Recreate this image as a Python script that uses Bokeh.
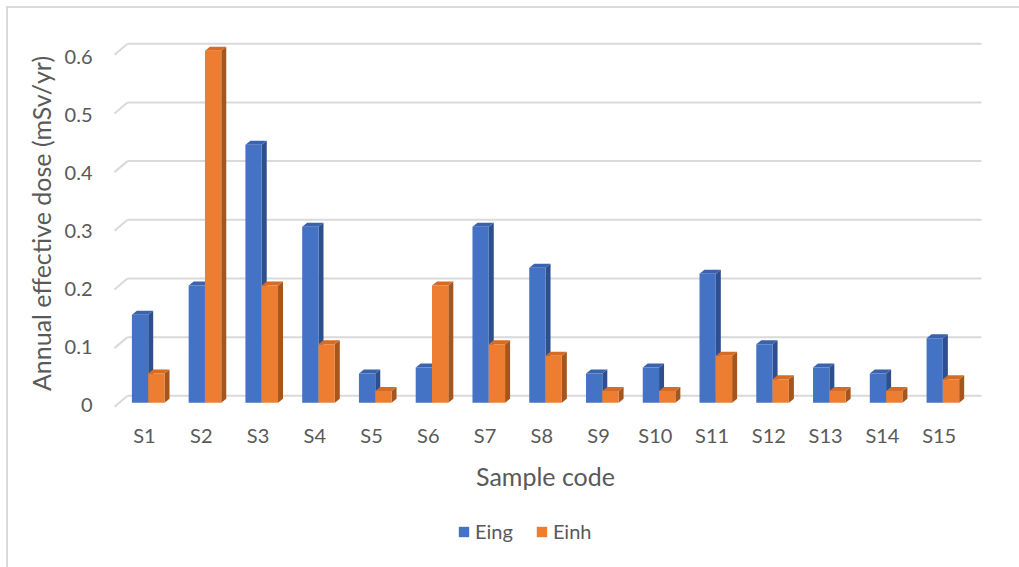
from bokeh.plotting import figure
from bokeh.layouts import column
from bokeh.models import Range1d, LinearAxis, FixedTicker, Legend, LegendItem
from bokeh.embed import file_html
from bokeh.resources import INLINE

# ---- data ----
categories = ["S1", "S2", "S3", "S4", "S5", "S6", "S7", "S8", "S9", "S10",
              "S11", "S12", "S13", "S14", "S15"]
eing = [0.15, 0.20, 0.44, 0.30, 0.05, 0.06, 0.30, 0.23, 0.05, 0.06,
        0.22, 0.10, 0.06, 0.05, 0.11]
einh = [0.05, 0.60, 0.20, 0.10, 0.02, 0.20, 0.10, 0.08, 0.02, 0.02,
        0.08, 0.04, 0.02, 0.02, 0.04]
y_ticks = [0, 0.1, 0.2, 0.3, 0.4, 0.5, 0.6]
series_names = ["Eing", "Einh"]

# ---- geometry (pixel scales of the pseudo-3D chart) ----
PX_X = 56.76          # px per category
PX_Y = 586.7          # px per unit of dose
SHIFT = 3.7 / PX_X    # bars' pair boundary relative to label
BW = 16.3 / PX_X      # front face width
DX = 5.0 / PX_X       # depth in x
DY = 4.0 / PX_Y       # depth in y
BACK_DY = 7.0 / PX_Y  # back wall above the front plane
FRONT_DY = -4.0 / PX_Y

TXT = "#595959"
FONT = "Lato"
BLUE = ("#4472C4", "#2D4F8E", "#3A63AE")
ORANGE = ("#ED7D31", "#A5561E", "#D46C25")

p = figure(frame_width=892, frame_height=390,
           x_range=Range1d(-0.7928, 14.922),
           y_range=Range1d(-0.02676, 0.63798),
           min_border_left=99, min_border_right=28,
           min_border_top=28, min_border_bottom=87,
           y_axis_location=None,
           output_backend="svg", toolbar_location=None,
           background_fill_color="white", border_fill_alpha=0,
           outline_line_color=None)
p.styles = {
    "background-color": "white",
    "background-image": "linear-gradient(#d9d9d9, #d9d9d9), linear-gradient(#d9d9d9, #d9d9d9)",
    "background-size": "2px 100%, 100% 2px",
    "background-position": "6px 6px, 6px 6px",
    "background-repeat": "no-repeat",
}
p.xgrid.visible = False
p.ygrid.visible = False

# y axis on its own range (labels follow the front wall's projection)
p.extra_y_ranges = {"lab": Range1d(-0.022414, 0.65)}
yax = LinearAxis(y_range_name="lab", ticker=FixedTicker(ticks=y_ticks),
                 axis_label="Annual effective dose (mSv/yr)")
yax.axis_line_color = None
yax.major_tick_line_color = None
yax.minor_tick_line_color = None
yax.major_tick_out = 0
yax.major_tick_in = 0
yax.major_label_standoff = 7
yax.axis_label_standoff = 6
yax.major_label_text_font = FONT
yax.major_label_text_font_size = "20px"
yax.major_label_text_color = TXT
yax.axis_label_text_font = FONT
yax.axis_label_text_font_size = "25px"
yax.axis_label_text_font_style = "normal"
yax.axis_label_text_color = TXT
yax.major_label_overrides = {0: "0"}
p.add_layout(yax, "left")

# back wall gridlines + slanted side wall edges
gx0 = (127 - 144) / PX_X
gx1 = (981 - 144) / PX_X
sx0 = (114 - 144) / PX_X
p.segment(x0=[gx0] * len(y_ticks), x1=[gx1] * len(y_ticks),
          y0=[v + BACK_DY for v in y_ticks], y1=[v + BACK_DY for v in y_ticks],
          line_color="#d9d9d9", line_width=2)
p.segment(x0=[sx0] * len(y_ticks), x1=[gx0] * len(y_ticks),
          y0=[v + FRONT_DY for v in y_ticks], y1=[v + BACK_DY for v in y_ticks],
          line_color="#d9d9d9", line_width=2)

# x axis
p.xaxis.ticker = FixedTicker(ticks=list(range(len(categories))))
p.xaxis.major_label_overrides = {i: c for i, c in enumerate(categories)}
p.xaxis.axis_line_color = None
p.xaxis.major_tick_line_color = None
p.xaxis.minor_tick_line_color = None
p.xaxis.major_tick_out = 0
p.xaxis.major_tick_in = 0
p.xaxis.major_label_standoff = 4
p.xaxis.axis_label = "Sample code"
p.xaxis.axis_label_standoff = 11
p.xaxis.major_label_text_font = FONT
p.xaxis.major_label_text_font_size = "20px"
p.xaxis.major_label_text_color = TXT
p.xaxis.axis_label_text_font = FONT
p.xaxis.axis_label_text_font_size = "25px"
p.xaxis.axis_label_text_font_style = "normal"
p.xaxis.axis_label_text_color = TXT


def draw_series(values, left_offset, colors):
    front, side, top = colors
    xl = [i + SHIFT + left_offset for i in range(len(values))]
    xr = [x + BW for x in xl]
    side_xs = [[r, r + DX, r + DX, r] for r in xr]
    side_ys = [[0, DY, v + DY, v] for v in values]
    top_xs = [[l, r, r + DX, l + DX] for l, r in zip(xl, xr)]
    top_ys = [[v, v, v + DY, v + DY] for v in values]
    p.patches(side_xs, side_ys, fill_color=side, line_color=None)
    p.patches(top_xs, top_ys, fill_color=top, line_color=None)
    return p.quad(left=xl, right=xr, bottom=[0] * len(values), top=values,
                  fill_color=front, line_color=None)


draw_series(eing, -BW, BLUE)
draw_series(einh, 0.0, ORANGE)

# ---- legend strip below the chart ----
lg = figure(width=1019, height=62, x_range=Range1d(0, 1), y_range=Range1d(0, 1),
            min_border=0, min_border_left=0, min_border_right=0,
            min_border_top=0, min_border_bottom=0,
            x_axis_location=None, y_axis_location=None,
            output_backend="svg", toolbar_location=None,
            background_fill_alpha=0, border_fill_alpha=0,
            outline_line_color=None)
lg.styles = {
    "background-color": "white",
    "background-image": "linear-gradient(#d9d9d9, #d9d9d9)",
    "background-size": "2px 100%",
    "background-position": "6px 0px",
    "background-repeat": "no-repeat",
}
lg.xgrid.visible = False
lg.ygrid.visible = False
items = []
for name, colors in zip(series_names, [BLUE, ORANGE]):
    # legend swatch source: one square kept outside the strip's visible range
    r = lg.quad(left=[5], right=[6], bottom=[5], top=[6],
                fill_color=colors[0], line_color=None)
    items.append(LegendItem(label=name, renderers=[r]))
legend = Legend(items=items, orientation="horizontal", location=(358, 24),
                glyph_width=13, glyph_height=13, label_standoff=5,
                spacing=22, padding=0, margin=0,
                border_line_color=None, background_fill_alpha=0,
                label_text_font=FONT, label_text_font_size="20px",
                label_text_color=TXT)
lg.add_layout(legend, "center")

layout = column(p, lg, spacing=0)
open("out.html", "w").write(file_html(layout, INLINE))
